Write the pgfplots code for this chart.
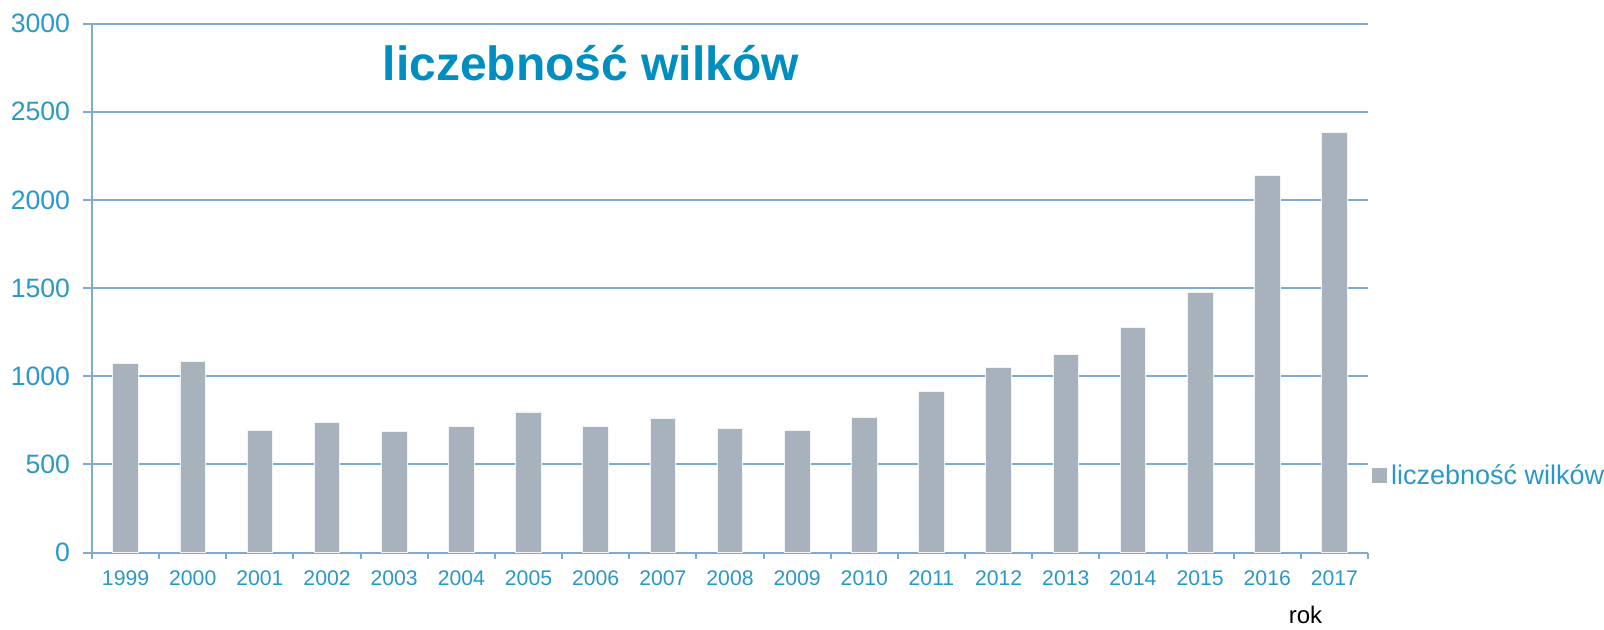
\documentclass[border=0pt]{standalone}
\usepackage{pgfplots}
\pgfplotsset{compat=1.18}
\usepackage{fontspec}
\setmainfont{Liberation Sans}
\definecolor{tickc}{RGB}{41,152,200}
\definecolor{titlec}{RGB}{0,142,192}
\definecolor{gridc}{RGB}{128,170,208}
\definecolor{barc}{RGB}{167,178,188}
\begin{document}
\begin{tikzpicture}
\useasboundingbox (-46pt,-38.25pt) rectangle (756pt,276.25pt);
\begin{axis}[
  at={(0pt,0pt)}, anchor=south west,
  scale only axis, width=638pt, height=264.5pt,
  xmin=-0.5, xmax=18.5, ymin=0, ymax=3000,
  axis lines*=left,
  axis line style={gridc, line width=1pt},
  ymajorgrids, grid style={gridc, line width=1pt},
  ytick={0,500,...,3000},
  xtick={0,...,18},
  xticklabels={1999,2000,2001,2002,2003,2004,2005,2006,2007,2008,2009,2010,2011,2012,2013,2014,2015,2016,2017},
  minor xtick={-0.5,0.5,...,18.5},
  tick align=outside,
  major tick style={gridc, line width=1pt},
  minor tick style={gridc, line width=1pt},
  major x tick style={draw=none},
  major tick length=4.5pt,
  minor tick length=3pt,
  /pgf/number format/assume math mode=true,
  /pgf/number format/1000 sep={},
  yticklabel style={font=\fontsize{13.3}{15}\selectfont, text=tickc, xshift=-3pt},
  xticklabel style={font=\fontsize{10.6}{13}\selectfont, text=tickc, yshift=-1pt},
  title={\textbf{liczebność wilków}},
  title style={at={(axis description cs:0.391,0.902)}, anchor=center, font=\fontsize{24}{28}\selectfont, text=titlec},
  xlabel={rok},
  xlabel style={at={(axis description cs:0.951,-0.118)}, anchor=center, font=\fontsize{12}{14}\selectfont, text=black},
  legend style={at={(axis description cs:1.003,0.145)}, anchor=west, draw=none, fill=none,
    font=\fontsize{13.5}{15}\selectfont, text=tickc, inner sep=0pt,
    /tikz/every even column/.append style={column sep=0pt}},
  legend cell align=left,
  legend image code/.code={\fill[barc] (0pt,-3.5pt) rectangle (7pt,3.5pt);},
]
\addplot[ybar, bar width=12.8pt, fill=barc, draw=white!85!barc, line width=0.4pt] coordinates {
(0,1070) (1,1086) (2,694) (3,738) (4,687) (5,716) (6,797) (7,716) (8,759) (9,702) (10,694) (11,768) (12,914) (13,1052) (14,1124) (15,1277) (16,1475) (17,2136) (18,2382)
};
\addlegendentry{liczebność wilków}
\end{axis}
\end{tikzpicture}
\end{document}
